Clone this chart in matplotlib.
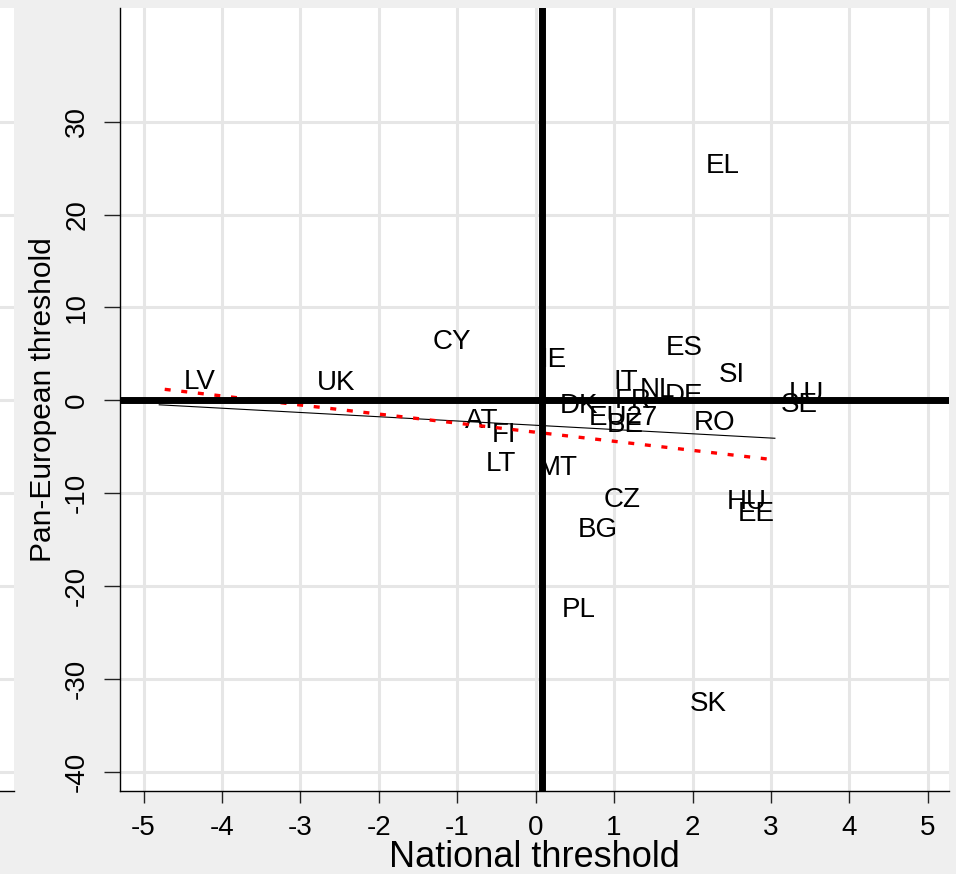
#!/usr/bin/env python3

import matplotlib
matplotlib.use("Agg")
import matplotlib.pyplot as plt
import numpy as np

plt.rcParams["font.family"] = ["Liberation Sans", "DejaVu Sans"]
plt.rcParams["axes.unicode_minus"] = False

countries = ["EL", "CY", "IE", "ES", "SI", "IT", "NL", "DE", "LU", "SE",
             "LV", "UK", "AT", "FI", "LT", "MT", "DK", "FR", "EU27", "BE",
             "RO", "CZ", "BG", "HU", "EE", "PL", "SK"]
national = [2.10, -1.39, -0.01, 1.59, 2.26, 0.92, 1.26, 1.58, 3.16, 3.05,
            -4.56, -2.86, -0.97, -0.63, -0.71, -0.05, 0.24, 0.94, 0.61, 0.84,
            1.94, 0.80, 0.47, 2.36, 2.50, 0.26, 1.90]
paneuro = [25.2, 6.3, 4.3, 5.6, 2.7, 2.0, 1.1, 0.4, 0.7, -0.5,
           2.0, 1.9, -2.2, -3.8, -6.9, -7.3, -0.6, -0.1, -1.9, -2.7,
           -2.5, -10.75, -14.0, -11.0, -12.3, -22.6, -32.7]

# fitted lines (intercept, slope)
fit_range = [-4.8, 3.05]
fit_black = (-2.70, -0.459)
fit_red_range = [-4.73, 3.05]
fit_red = (-3.45, -0.977)

ref_x = 0.08
ref_y = 0.0

xticks = [-5, -4, -3, -2, -1, 0, 1, 2, 3, 4, 5]
yticks = [-40, -30, -20, -10, 0, 10, 20, 30]

W, H = 956, 874
fig = plt.figure(figsize=(W / 100, H / 100), dpi=100, facecolor="#efefef")

# leftover strip of a neighbouring panel
ax0 = fig.add_axes([0, 83 / H, 14 / W, (791 - 8) / H])
ax0.set_facecolor("white")
ax0.set_ylim(-42.1, 42.25)
ax0.set_xlim(0, 1)
for yv in yticks:
    ax0.axhline(yv, color="#e6e6e6", lw=2.2)
for s in ["top", "right", "left"]:
    ax0.spines[s].set_visible(False)
ax0.spines["bottom"].set_linewidth(1.0)
ax0.set_xticks([])
ax0.set_yticks([])

ax = fig.add_axes([120 / W, 83 / H, (949 - 120) / W, (791 - 8) / H])
ax.set_facecolor("white")
ax.set_xlim(-5.30, 5.27)
ax.set_ylim(-42.1, 42.25)
ax.set_xticks(xticks)
ax.set_yticks(yticks)
ax.grid(True, color="#e6e6e6", lw=2.2)
ax.set_axisbelow(True)
for s in ["top", "right"]:
    ax.spines[s].set_visible(False)
ax.spines["left"].set_linewidth(1.0)
ax.spines["bottom"].set_linewidth(1.0)
ax.tick_params(axis="both", direction="out", width=1.0,
               labelsize=20, color="#222222")
ax.tick_params(axis="x", length=8.5, pad=9)
ax.tick_params(axis="y", length=11.5, pad=10)
plt.setp(ax.get_yticklabels(), rotation=90, va="center")
ax.set_xlabel("National threshold", fontsize=26, labelpad=-1)
ax.set_ylabel("Pan-European threshold", fontsize=21.5, labelpad=5)

for name, x, y in zip(countries, national, paneuro):
    ax.annotate(name, (x, y), xytext=(4, 0), textcoords="offset points",
                ha="left", va="center", fontsize=20, color="black", zorder=3)

xs = np.array(fit_range)
ax.plot(xs, fit_black[0] + fit_black[1] * xs, color="black", lw=0.8, zorder=4)
xr = np.array(fit_red_range)
ax.plot(xr, fit_red[0] + fit_red[1] * xr, color="red", lw=2.4,
        linestyle=(0, (1.8, 3.2)), zorder=4)

ax.axvline(ref_x, color="black", lw=5, zorder=5)
ax.axhline(ref_y, color="black", lw=5, zorder=5)

fig.savefig("out.png", dpi=100, facecolor=fig.get_facecolor())
